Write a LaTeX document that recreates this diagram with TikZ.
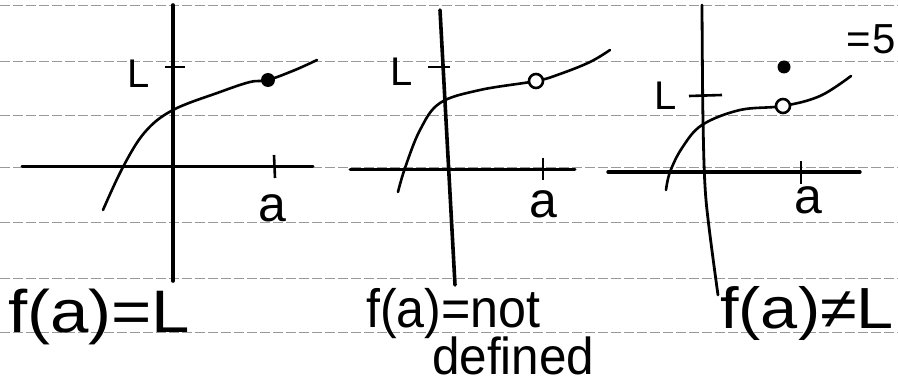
\documentclass[tikz,border=0pt]{standalone}
\usepackage{fontspec}
\setmainfont{Liberation Sans}
\begin{document}
\begin{tikzpicture}[x=1pt,y=-1pt,
  ruled/.style={black!40,line width=1pt,dash pattern=on 10pt off 3pt},
  yaxis/.style={line width=3.6pt,line cap=round},
  xaxis/.style={line width=3pt,line cap=round},
  tick/.style={line width=2.6pt},
  curve/.style={line width=2.6pt,line cap=round},
  lab/.style={font=\fontsize{40}{42}\selectfont,inner sep=0pt},
  alab/.style={font=\fontsize{50}{52}\selectfont,inner sep=0pt,anchor=base},
  big/.style={inner sep=0pt,anchor=base west},
  filled/.style={circle,fill=black,minimum size=14pt,inner sep=0pt},
  hollow/.style={circle,draw=black,line width=2.6pt,fill=white,minimum size=14pt,inner sep=0pt}]
\useasboundingbox (0,0) rectangle (898,385);
\fill[white] (0,0) rectangle (898,385);
\begin{scope}
\clip (0,0) rectangle (898,385);
% ruled notebook lines
\foreach \yy in {6,62,116,168,223,278,332} \draw[ruled] (0,\yy) -- (898,\yy);

% ---------- graph 1 ----------
\coordinate (y1t) at (173,5); \coordinate (y1b) at (173,281);
\coordinate (x1l) at (22,167); \coordinate (x1r) at (313,167);
\draw[yaxis] (y1t) -- (y1b);
\draw[xaxis] (x1l) -- (x1r);
\coordinate (t1a) at (274,155); \coordinate (t1b) at (275,178);
\draw[tick] (t1a) -- (t1b);
\coordinate (l1a) at (165,67); \coordinate (l1b) at (185,67);
\draw[tick] (l1a) -- (l1b);
\node[lab] (L1) at (139,74) {L};
\node[filled] (p1) at (268,80) {};
\draw[curve] plot[smooth,tension=0.6] coordinates {(103,210) (123,167) (145,132) (173,110) (220,92) (250,82) (268,80) (295,70) (317,60)};
\node[alab] (a1) at (272,222) {a};
\node[big] (f1) at (8,332) {\fontsize{60}{62}\selectfont\scalebox{1.15}[1]{f(a)=L}};

% ---------- graph 2 ----------
\coordinate (y2t) at (440,10); \coordinate (y2b) at (455,285);
\coordinate (x2l) at (350,170); \coordinate (x2r) at (575,170);
\draw[yaxis] (y2t) -- (y2b);
\draw[xaxis] (x2l) -- (x2r);
\coordinate (t2a) at (543,158); \coordinate (t2b) at (543,180);
\draw[tick] (t2a) -- (t2b);
\coordinate (l2a) at (428,67); \coordinate (l2b) at (450,67);
\draw[tick] (l2a) -- (l2b);
\node[lab] (L2) at (402,72) {L};
\draw[curve] plot[smooth,tension=0.6] coordinates {(398,192) (405,168) (420,130) (440,103) (480,90) (536,81) (560,74) (590,62) (610,50)};
\node[hollow] (p2) at (536,81) {};
\node[alab] (a2) at (543,218) {a};
\node[big] (f2) at (366,327) {\fontsize{54}{56}\selectfont\scalebox{0.93}[1]{f(a)=not}};
\node[big] (d2) at (432,374) {\fontsize{52}{54}\selectfont\scalebox{0.95}[1]{defined}};

% ---------- graph 3 ----------
\draw[yaxis,line width=2.8pt] plot[smooth,tension=0.5] coordinates {(702,5) (703,120) (706,200) (718,295)};
\coordinate (x3l) at (608,172); \coordinate (x3r) at (860,172);
\draw[xaxis,line width=3.4pt] (x3l) -- (x3r);
\coordinate (t3a) at (801,161); \coordinate (t3b) at (801,184);
\draw[tick] (t3a) -- (t3b);
\coordinate (l3a) at (689,96); \coordinate (l3b) at (722,95);
\draw[tick] (l3a) -- (l3b);
\node[lab] (L3) at (666,96) {L};
\draw[curve] plot[smooth,tension=0.6] coordinates {(666,190) (670,172) (682,148) (702,125) (740,110) (783,106) (820,96) (851,76)};
\node[hollow] (p3) at (783,106) {};
\node[filled,minimum size=13pt] (q3) at (784,67) {};
\node[alab] (a3) at (808,214) {a};
\node[big] (f3) at (720,328) {\fontsize{58}{60}\selectfont\scalebox{1.15}[1]{f(a)≠L}};
\node[big] (eq5) at (846,54) {\fontsize{42}{44}\selectfont =\hspace{2pt}5};
\end{scope}
\end{tikzpicture}
\end{document}
